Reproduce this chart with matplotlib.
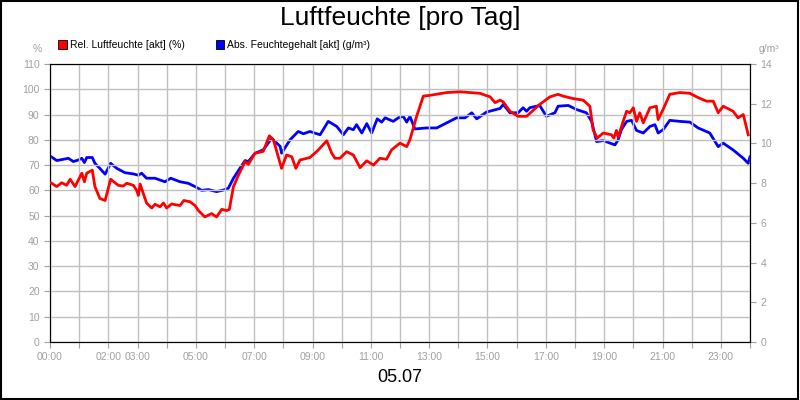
import numpy as np
import matplotlib.pyplot as plt
from matplotlib.patches import Rectangle

plt.rcParams["font.family"] = ["Liberation Sans", "DejaVu Sans"]

# hours of day, relative humidity (%)
rel_h = [0.03, 0.23, 0.4, 0.57, 0.69, 0.86, 1.09, 1.18, 1.26, 1.45, 1.54, 1.71, 1.89, 2.08, 2.34,
         2.51, 2.63, 2.86, 2.97, 3.03, 3.09, 3.31, 3.49, 3.6, 3.77, 3.89, 4.0, 4.17, 4.46, 4.59,
         4.8, 4.97, 5.09, 5.31, 5.54, 5.71, 5.89, 6.06, 6.15, 6.29, 6.46, 6.69, 6.8, 7.03, 7.31,
         7.52, 7.66, 7.94, 8.11, 8.29, 8.43, 8.57, 8.91, 9.14, 9.49, 9.66, 9.77, 9.94, 10.17,
         10.4, 10.63, 10.86, 11.09, 11.31, 11.54, 11.71, 12.0, 12.23, 12.34, 12.57, 12.8, 13.03,
         13.6, 14.06, 14.74, 15.09, 15.26, 15.43, 15.54, 15.77, 16.05, 16.34, 16.79, 17.14,
         17.42, 17.59, 17.94, 18.28, 18.51, 18.62, 18.76, 18.97, 19.25, 19.33, 19.42, 19.48,
         19.65, 19.77, 19.88, 20.0, 20.11, 20.22, 20.34, 20.57, 20.79, 20.85, 21.02, 21.25,
         21.59, 21.94, 22.22, 22.51, 22.74, 22.91, 23.08, 23.42, 23.59, 23.77, 23.94]
rel_v = [63, 61.5, 63, 62, 64.4, 61.5, 66.8, 63.4, 66.8, 68, 61.5, 56.8, 56, 64.4, 62,
         61.7, 62.8, 62, 60, 58, 62.5, 55, 53, 54.5, 53.5, 55, 53, 54.6, 54, 56,
         55.5, 54, 52, 49.5, 50.8, 49.5, 52.5, 52, 52.5, 61.5, 66, 71.4, 70.3, 74.7, 75.4,
         81.6, 80, 68.7, 74, 73.3, 68.7, 72, 73, 75.3, 79.6, 74.7, 72.7, 72.7, 75.3,
         74, 69, 71.7, 70, 72.7, 72.3, 76, 78.7, 77.3, 80, 89.3, 97.3, 97.6,
         98.7, 99, 98.4, 97, 94.7, 95.7, 95, 91.3, 89.3, 89.3, 94, 97,
         98, 97.3, 96.3, 95.7, 93.3, 84, 80.7, 82.7, 82, 80.7, 83.7, 81,
         87.3, 91.3, 90.7, 92.7, 87.3, 90.7, 86.7, 92.7, 93.3, 88, 92, 98,
         98.7, 98.4, 96.7, 95.3, 95.3, 90.7, 93.3, 91.3, 88.7, 90, 82]

# hours of day, absolute moisture content (read on the % scale, converted below)
abs_h = [0.03, 0.23, 0.46, 0.63, 0.8, 0.97, 1.09, 1.18, 1.26, 1.45, 1.54, 1.71, 1.89, 2.08, 2.29,
         2.57, 2.86, 3.03, 3.14, 3.31, 3.6, 3.94, 4.14, 4.46, 4.74, 4.97, 5.2, 5.43, 5.71, 5.94,
         6.11, 6.29, 6.51, 6.69, 6.8, 7.03, 7.31, 7.6, 7.89, 7.94, 8.23, 8.51, 8.69, 8.91, 9.26,
         9.54, 9.83, 10.06, 10.23, 10.4, 10.51, 10.69, 10.86, 11.03, 11.22, 11.37, 11.49, 11.77,
         11.94, 12.11, 12.23, 12.34, 12.51, 12.91, 13.26, 13.6, 13.94, 14.23, 14.46, 14.63,
         14.97, 15.2, 15.43, 15.54, 15.77, 16.05, 16.22, 16.34, 16.45, 16.79, 17.02, 17.31,
         17.42, 17.77, 18.05, 18.39, 18.57, 18.74, 18.97, 19.2, 19.37, 19.48, 19.59, 19.77,
         19.94, 20.11, 20.34, 20.57, 20.74, 20.85, 21.02, 21.25, 21.59, 21.94, 22.22, 22.62,
         22.91, 23.08, 23.42, 23.77, 23.94, 24.0]
abs_pct = [73.4, 71.8, 72.3, 72.7, 71.4, 72, 72.7, 71, 73, 73, 70.7, 68.7, 66.4, 70.7, 68.7,
           67, 66.5, 66, 66.8, 64.8, 64.8, 63.4, 64.8, 63.4, 62.8, 61.5, 60, 60.3, 59.5, 60.1,
           60.8, 64.8, 68.7, 71.8, 71.4, 74.7, 76, 80.6, 77.4, 74.7, 80, 83.3, 82.4, 83.3, 82,
           87.3, 85.3, 82, 84.7, 84, 86, 82.7, 86.4, 82.7, 88.3, 87, 88.7, 87.3,
           88.7, 89.3, 87, 89.3, 84.3, 84.7, 84.7, 86.7, 88.7, 88.7, 90.7, 88.3,
           91, 91.7, 92.4, 94, 90.7, 90.7, 92.7, 91.3, 92.7, 93.6, 89.3, 90.7,
           93.3, 93.6, 92, 90.7, 87.3, 79.3, 79.7, 78.7, 78, 80, 84, 87.3,
           87.7, 83.7, 82.7, 85.3, 86, 82.7, 84, 87.7, 87.3, 87, 84.7, 82.7,
           77.3, 78.7, 76, 72.7, 70.7, 73.3]
abs_gm3 = np.array(abs_pct) * 14 / 110

tick_hours = [0, 2, 3, 5, 7, 9, 11, 13, 15, 17, 19, 21, 23]
tick_labels = [f"{h:02d}:00" for h in tick_hours]

GREY = "#a0a0a0"
fig = plt.figure(figsize=(8, 4), dpi=100)
fig.patches.append(Rectangle((0.001, 0.002), 0.997, 0.996, transform=fig.transFigure,
                             fill=False, ec="black", lw=1.5))
ax = fig.add_axes([0.0625, 0.145, 0.875, 0.695])
ax.set_xlim(0, 24)
ax.set_ylim(0, 110)
ax.set_xticks(range(0, 25), minor=False)
ax.set_xticklabels([""] * 25)
ax.grid(True, color="#c0c0c0", lw=1)
ax.set_yticks(range(0, 111, 10))
ax.tick_params(axis="both", colors=GREY, labelsize=7.5, length=4)
for h, lab in zip(tick_hours, tick_labels):
    ax.text(h, -4, lab, ha="center", va="top", color=GREY, fontsize=7.5)
ax.set_axisbelow(True)

ax.plot(rel_h, rel_v, color="#ff0000", lw=2, zorder=3)
ax2 = ax.twinx()
ax2.set_ylim(0, 14)
ax2.set_yticks(range(0, 15, 2))
ax2.tick_params(axis="y", colors=GREY, labelsize=7.5, length=4)
ax2.plot(abs_h, abs_gm3, color="#0000ff", lw=2, zorder=2)
ax.set_zorder(ax2.get_zorder() + 1)
ax.patch.set_visible(False)
for a in (ax, ax2):
    for s in a.spines.values():
        s.set_color("black")

fig.text(0.5, 0.955, "Luftfeuchte [pro Tag]", ha="center", va="center", fontsize=19)
fig.text(0.5, 0.055, "05.07", ha="center", va="center", fontsize=13)
fig.text(0.052, 0.878, "%", ha="right", va="center", color=GREY, fontsize=7.5)
fig.text(0.948, 0.878, "g/m³", ha="left", va="center", color=GREY, fontsize=7.5)
fig.patches.append(Rectangle((0.073, 0.878), 0.0105, 0.021, transform=fig.transFigure,
                             fc="#ff0000", ec="black", lw=0.6))
fig.text(0.087, 0.888, "Rel. Luftfeuchte [akt] (%)", va="center", fontsize=7.5)
fig.patches.append(Rectangle((0.27, 0.878), 0.0105, 0.021, transform=fig.transFigure,
                             fc="#0000ff", ec="black", lw=0.6))
fig.text(0.284, 0.888, "Abs. Feuchtegehalt [akt] (g/m³)", va="center", fontsize=7.5)

fig.savefig("out.png", dpi=100)
